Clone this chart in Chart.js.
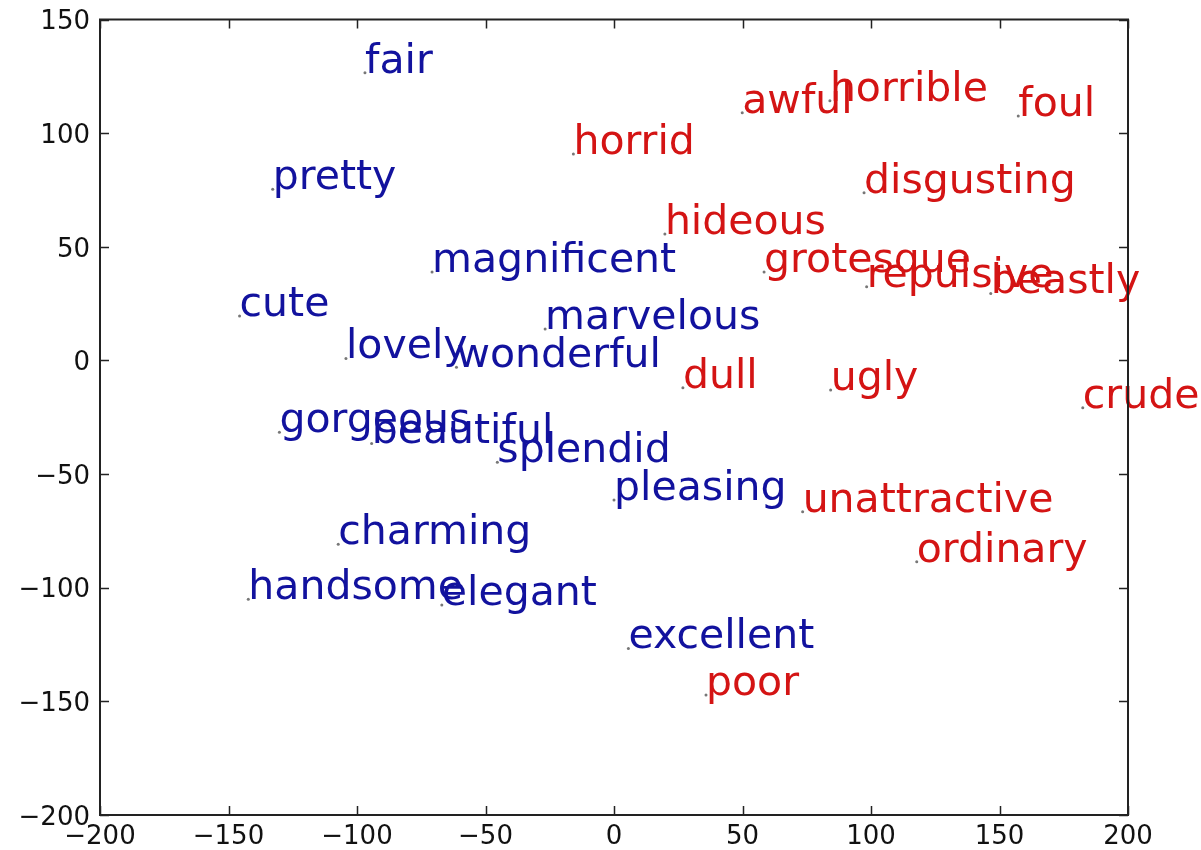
<!DOCTYPE html>
<html lang="en">
<head>
<meta charset="UTF-8">
<title>Word embedding map</title>
<script src="https://cdn.jsdelivr.net/npm/chart.js"></script>
<style>
  html, body { margin: 0; padding: 0; background: #ffffff; }
  #wrap { width: 1201px; height: 850px; }
</style>
</head>
<body>
<div id="wrap"><canvas id="chart" width="1201" height="850"></canvas></div>
<script>
// positive words (blue)
const posWords = ['fair', 'pretty', 'cute', 'lovely', 'wonderful', 'magnificent', 'marvelous',
  'gorgeous', 'beautiful', 'splendid', 'pleasing', 'charming', 'handsome', 'elegant', 'excellent'];
const posX = [-96.9, -132.8, -145.7, -104.3, -61.3, -70.8, -26.8,
  -130.2, -94.3, -45.4, 0.0, -107.3, -142.3, -67.0, 5.6];
const posY = [126.6, 75.3, 19.5, 0.9, -3.0, 38.9, 13.8,
  -31.6, -36.5, -44.8, -61.4, -80.9, -105.1, -107.6, -126.7];

// negative words (red)
const negWords = ['awful', 'horrible', 'foul', 'horrid', 'disgusting', 'hideous', 'grotesque',
  'repulsive', 'beastly', 'dull', 'ugly', 'crude', 'unattractive', 'ordinary', 'poor'];
const negX = [49.9, 84.0, 157.3, -15.8, 97.3, 19.8, 58.4,
  98.3, 146.6, 26.8, 84.3, 182.4, 73.4, 117.8, 35.8];
const negY = [109.0, 114.3, 107.5, 90.8, 73.8, 55.6, 38.9,
  32.4, 29.5, -12.0, -13.0, -20.8, -66.6, -88.6, -147.2];

const xTicks = [-200, -150, -100, -50, 0, 50, 100, 150, 200];
const yTicks = [-200, -150, -100, -50, 0, 50, 100, 150];

const BLUE = '#12129e';
const RED = '#d41414';

function toPoints(xs, ys) {
  return xs.map((x, i) => ({ x: x, y: ys[i] }));
}

// words next to each point
const wordLabels = {
  id: 'wordLabels',
  afterDatasetsDraw(chart) {
    const ctx = chart.ctx;
    ctx.save();
    ctx.font = '41px "DejaVu Sans"';
    ctx.textAlign = 'left';
    ctx.textBaseline = 'alphabetic';
    chart.data.datasets.forEach((ds, di) => {
      const meta = chart.getDatasetMeta(di);
      ctx.fillStyle = ds.textColor;
      meta.data.forEach((el, i) => {
        ctx.fillText(ds.words[i], el.x, el.y);
      });
    });
    ctx.restore();
  }
};

// matplotlib-like frame with inward ticks on all sides
const frame = {
  id: 'frame',
  afterDraw(chart) {
    const ctx = chart.ctx;
    const a = chart.chartArea;
    const xs = chart.scales.x, ys = chart.scales.y;
    const tl = 9;
    ctx.save();
    ctx.strokeStyle = '#222';
    ctx.lineWidth = 1.5;
    ctx.beginPath();
    xTicks.forEach(v => {
      const px = Math.round(xs.getPixelForValue(v)) + 0.5;
      ctx.moveTo(px, a.bottom); ctx.lineTo(px, a.bottom - tl);
      ctx.moveTo(px, a.top); ctx.lineTo(px, a.top + tl);
    });
    yTicks.forEach(v => {
      const py = Math.round(ys.getPixelForValue(v)) + 0.5;
      ctx.moveTo(a.left, py); ctx.lineTo(a.left + tl, py);
      ctx.moveTo(a.right, py); ctx.lineTo(a.right - tl, py);
    });
    ctx.stroke();
    ctx.lineWidth = 2;
    ctx.strokeRect(a.left, a.top, a.right - a.left, a.bottom - a.top);
    ctx.restore();
  }
};

const tickFont = { family: 'DejaVu Sans', size: 26 };
const fmt = v => (v < 0 ? '\u2212' + Math.abs(v) : String(v));

new Chart(document.getElementById('chart'), {
  type: 'scatter',
  data: {
    datasets: [
      {
        label: 'positive',
        words: posWords,
        textColor: BLUE,
        data: toPoints(posX, posY),
        pointRadius: 1.5,
        pointBackgroundColor: '#777',
        pointBorderWidth: 0
      },
      {
        label: 'negative',
        words: negWords,
        textColor: RED,
        data: toPoints(negX, negY),
        pointRadius: 1.5,
        pointBackgroundColor: '#777',
        pointBorderWidth: 0
      }
    ]
  },
  options: {
    responsive: false,
    animation: false,
    layout: { padding: { top: 19.5, right: 73, left: 0, bottom: 0 } },
    plugins: {
      legend: { display: false },
      tooltip: { enabled: false }
    },
    scales: {
      x: {
        type: 'linear',
        min: -200, max: 200,
        afterBuildTicks: s => { s.ticks = xTicks.map(v => ({ value: v })); },
        afterFit: s => { s.height = 35; s.paddingLeft = 0; s.paddingRight = 0; },
        grid: { display: false, drawTicks: false },
        border: { display: false },
        ticks: { color: '#111', font: tickFont, padding: 7, maxRotation: 0, callback: fmt }
      },
      y: {
        type: 'linear',
        min: -200, max: 150,
        afterBuildTicks: s => { s.ticks = yTicks.map(v => ({ value: v })); },
        afterFit: s => { s.width = 100; s.paddingTop = 0; s.paddingBottom = 0; },
        grid: { display: false, drawTicks: false },
        border: { display: false },
        ticks: { color: '#111', font: tickFont, padding: 10, labelOffset: 3, callback: fmt }
      }
    }
  },
  plugins: [wordLabels, frame]
});
</script>
</body>
</html>
